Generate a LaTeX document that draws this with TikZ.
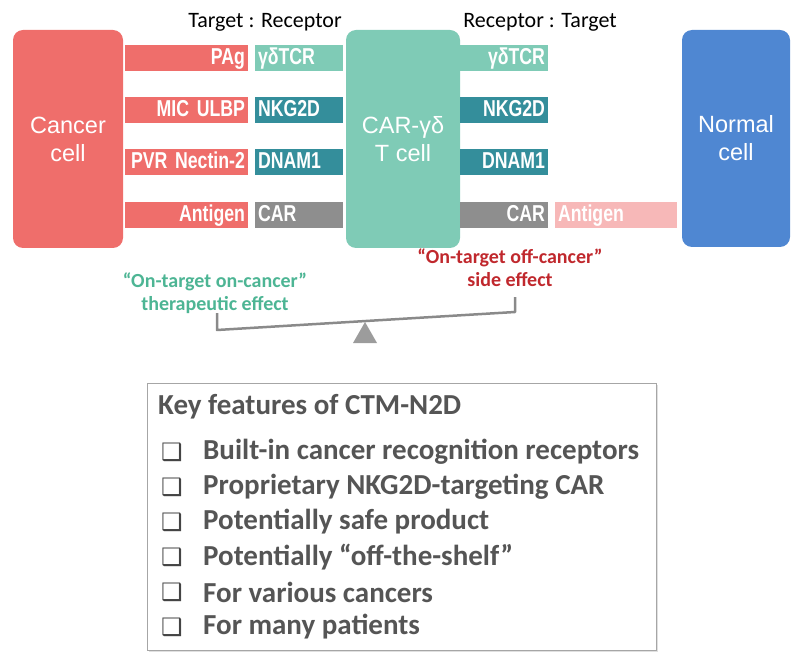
\documentclass[tikz,border=0pt]{standalone}
\usepackage{fontspec}
\setmainfont{Carlito}
\newfontfamily\cellfont{Liberation Sans}
\newfontfamily\barfont[FakeStretch=0.77]{Liberation Sans}
\newfontfamily\symfont{DejaVu Sans}
\usetikzlibrary{positioning}
\definecolor{cancerred}{HTML}{EF6E6B}
\definecolor{tcellmint}{HTML}{7FCBB6}
\definecolor{recteal}{HTML}{348E9B}
\definecolor{cargray}{HTML}{8E8E8E}
\definecolor{normalblue}{HTML}{4F87D2}
\definecolor{antipink}{HTML}{F7B8B8}
\definecolor{ontealtext}{HTML}{4DB594}
\definecolor{offredtext}{HTML}{C0282D}
\definecolor{beamgray}{HTML}{8A8A8A}
\definecolor{keytext}{HTML}{555555}
\tikzset{%
cell/.style={
    rounded corners=10pt,
    text=white, align=center,
    inner sep=0pt,
    font=\cellfont\fontsize{23.5}{28}\selectfont
  },
bar/.style={
    inner sep=3pt, outer sep=0pt,
    text height=16.5pt, text depth=4pt,
    text=white,
    font=\barfont\bfseries\fontsize{23}{23}\selectfont
  },
ligand/.style={bar, fill=cancerred, text width=117pt, align=right},
receptor/.style={bar, text width=82pt, align=left},
backreceptor/.style={bar, text width=82pt, align=right},
effect/.style={align=center, font=\bfseries\fontsize{20}{23}\selectfont},
feature/.style={anchor=west, inner sep=0pt, text=keytext,
    font=\bfseries\fontsize{29}{30}\selectfont}
}

\begin{document}
\begin{tikzpicture}[x=1pt, y=-1pt]
\useasboundingbox (0,0) rectangle (800,668);

% cells
\node[cell, fill=cancerred, minimum width=110pt, minimum height=218pt] (cancer) at (68,139) {Cancer\\cell};
\node[cell, fill=tcellmint, minimum width=114pt, minimum height=218pt] (tcell) at (403,139) {CAR-γδ\\T cell};
\node[cell, fill=normalblue, minimum width=108pt, minimum height=217pt] (normal) at (736,138.5) {Normal\\cell};

\node[font=\fontsize{22}{24}\selectfont] (lefthead) at (265,22) {Target : Receptor};
\node[font=\fontsize{22}{24}\selectfont] (righthead) at (540,22) {Receptor : Target};

% target : receptor pairs, cancer side
\node[ligand] (pag) at (186.5,58) {PAg};
\node[ligand] (mic) at (186.5,110) {MIC ULBP};
\node[ligand] (pvr) at (186.5,162) {PVR Nectin-2};
\node[ligand] (antigen) at (186.5,215) {Antigen};
\node[receptor, fill=tcellmint] (tcr) at (299,58) {γδTCR};
\node[receptor, fill=recteal] (nkg) at (299,110) {NKG2D};
\node[receptor, fill=recteal] (dnam) at (299,162) {DNAM1};
\node[receptor, fill=cargray] (car) at (299,215) {CAR};

% receptor : target pairs, normal side
\node[backreceptor, fill=tcellmint] (tcr2) at (504,58) {γδTCR};
\node[backreceptor, fill=recteal] (nkg2) at (504,110) {NKG2D};
\node[backreceptor, fill=recteal] (dnam2) at (504,162) {DNAM1};
\node[backreceptor, fill=cargray] (car2) at (504,215) {CAR};
\node[bar, fill=antipink, text width=116pt, align=left] (antigen2) at (616,215) {Antigen};

% effects and balance
\node[effect, text=ontealtext] (oncancer) at (215,293) {“On-target on-cancer”\\therapeutic effect};
\node[effect, text=offredtext] (offcancer) at (510,268) {“On-target off-cancer”\\side effect};
\coordinate (beamltop) at (217,313);
\coordinate (beaml) at (217,330);
\coordinate (beamr) at (515,312);
\coordinate (beamrtop) at (515,297);
\draw[beamgray, line width=2.5pt, line join=round] (beamltop) -- (beaml) -- (beamr) -- (beamrtop);
\fill[beamgray!85] (365,322) -- (377,343) -- (353,343) -- cycle;

% key features
\fill[black!12] (149,385) rectangle (658,652);
\node[draw=black!35, fill=white, line width=1pt, minimum width=509pt, minimum height=267pt, inner sep=0pt] (keys) at (401.5,516.5) {};
\node[feature] (keyhead) at (158,407) {Key features of CTM-N2D};
\foreach \y/\txt [count=\i] in {452/Built-in cancer recognition receptors,
    487/Proprietary NKG2D-targeting CAR,
    522/Potentially safe product,
    557/Potentially “off-the-shelf”,
    592/For various cancers,
    627/For many patients}
{
  \node[text=keytext!80!black, inner sep=0pt, font=\symfont\fontsize{24}{24}\selectfont] (box\i) at (172,\y) {❑};
  \node[feature] (item\i) at (203,\y) {\txt};
}
\end{tikzpicture}
\end{document}
